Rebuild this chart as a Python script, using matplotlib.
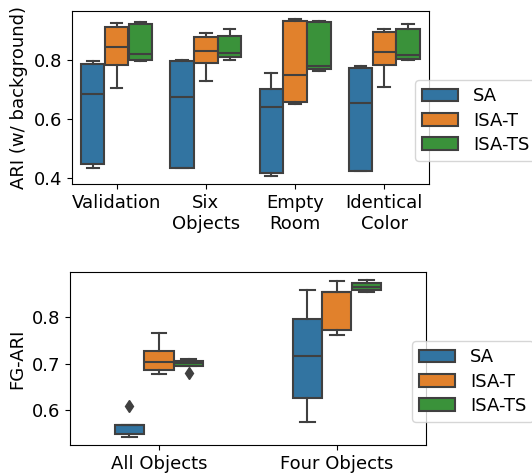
import matplotlib
matplotlib.use('Agg')
import matplotlib.pyplot as plt
from matplotlib.patches import Patch

# методы и цвета (seaborn, saturation 0.75)
methods = ['SA', 'ISA-T', 'ISA-TS']
colors = ['#3274a1', '#e1812c', '#3a923a']
gray = '#404040'

# верхний график: ARI (w/ background), [SA, ISA-T, ISA-TS] для каждой категории
top_labels = ['Validation', 'Six\nObjects', 'Empty\nRoom', 'Identical\nColor']
top_whishi = [[0.796, 0.926, 0.931], [0.800, 0.891, 0.906], [0.757, 0.941, 0.934], [0.781, 0.905, 0.922]]
top_q3 = [[0.789, 0.911, 0.923], [0.797, 0.880, 0.881], [0.703, 0.933, 0.930], [0.775, 0.896, 0.905]]
top_med = [[0.685, 0.846, 0.820], [0.675, 0.832, 0.826], [0.642, 0.750, 0.779], [0.655, 0.827, 0.817]]
top_q1 = [[0.448, 0.783, 0.801], [0.437, 0.791, 0.810], [0.417, 0.659, 0.771], [0.427, 0.783, 0.805]]
top_whislo = [[0.437, 0.707, 0.798], [0.436, 0.730, 0.801], [0.408, 0.651, 0.764], [0.427, 0.710, 0.800]]
top_fliers = [[[], [], []], [[], [], []], [[], [], []], [[], [], []]]

# нижний график: FG-ARI
bot_labels = ['All Objects', 'Four Objects']
bot_whishi = [[0.569, 0.766, 0.710], [0.858, 0.877, 0.880]]
bot_q3 = [[0.569, 0.728, 0.706], [0.795, 0.854, 0.873]]
bot_med = [[0.568, 0.704, 0.701], [0.717, 0.854, 0.864]]
bot_q1 = [[0.550, 0.687, 0.696], [0.627, 0.773, 0.857]]
bot_whislo = [[0.543, 0.679, 0.696], [0.576, 0.762, 0.853]]
bot_fliers = [[[0.610], [], [0.681]], [[], [], []]]

FS = 13


def draw_boxes(ax, labels, whishi, q3, med, q1, whislo, fliers, width):
    n = len(methods)
    w = width / n
    for j in range(n):
        stats = []
        pos = []
        for i in range(len(labels)):
            stats.append(dict(med=med[i][j], q1=q1[i][j], q3=q3[i][j],
                              whislo=whislo[i][j], whishi=whishi[i][j],
                              fliers=fliers[i][j]))
            pos.append(i - width / 2 + w * (j + 0.5))
        ax.bxp(stats, positions=pos, widths=w * 0.98, patch_artist=True,
               showfliers=True, manage_ticks=False,
               boxprops=dict(facecolor=colors[j], edgecolor=gray, linewidth=1.5),
               medianprops=dict(color=gray, linewidth=1.5),
               whiskerprops=dict(color=gray, linewidth=1.5),
               capprops=dict(color=gray, linewidth=1.5),
               flierprops=dict(marker='d', markerfacecolor=gray, markeredgecolor=gray,
                               markersize=6))
    ax.set_xticks(range(len(labels)))
    ax.set_xticklabels(labels)
    ax.set_xlim(-0.5, len(labels) - 0.5)
    ax.tick_params(labelsize=FS)


fig = plt.figure(figsize=(5.32, 4.74), dpi=100)
ax1 = fig.add_axes([0.1353, 0.6118, 0.671, 0.3656])
ax2 = fig.add_axes([0.1316, 0.0612, 0.669, 0.3656])

draw_boxes(ax1, top_labels, top_whishi, top_q3, top_med, top_q1, top_whislo, top_fliers, 0.8)
draw_boxes(ax2, bot_labels, bot_whishi, bot_q3, bot_med, bot_q1, bot_whislo, bot_fliers, 0.5)

ax1.set_yticks([0.4, 0.6, 0.8])
ax2.set_yticks([0.6, 0.7, 0.8])
ax1.set_ylabel('ARI (w/ background)', fontsize=FS)
ax2.set_ylabel('FG-ARI', fontsize=FS)

handles = [Patch(facecolor=c, edgecolor=gray, linewidth=1.5) for c in colors]
ax1.legend(handles, methods, loc='upper left', bbox_to_anchor=(415 / 532, 1 - 80 / 474),
           bbox_transform=fig.transFigure, fontsize=FS, borderaxespad=0,
           labelspacing=0.35)
ax2.legend(handles, methods, loc='upper left', bbox_to_anchor=(412 / 532, 1 - 341 / 474),
           bbox_transform=fig.transFigure, fontsize=FS, borderaxespad=0,
           labelspacing=0.35)

plt.savefig('out.png', dpi=100)
